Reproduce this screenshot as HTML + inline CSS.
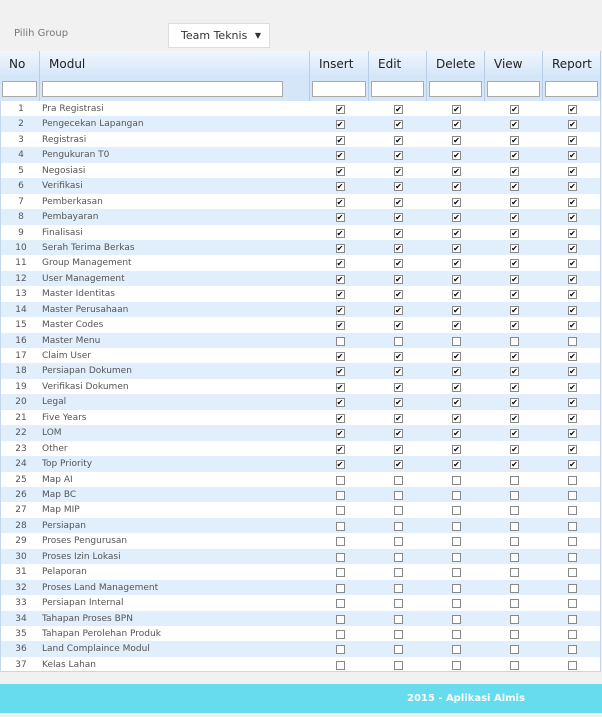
<!DOCTYPE html>
<html><head><meta charset="utf-8">
<style>
body{margin:0;width:602px;height:717px;background:#f1f1f1;font-family:"DejaVu Sans","Liberation Sans",sans-serif;position:relative;overflow:hidden}
.abs{position:absolute}
.lbl{left:14px;top:28px;font-size:10px;color:#777}
.sel{left:168px;top:23px;width:102px;height:25px;background:#fff;border:1px solid #ddd;box-sizing:border-box;font-size:11px;color:#333;line-height:23px;padding-left:12px}
.sel span{position:absolute;right:8px;font-size:8px}
.tbl{left:0;top:51px;width:601px;height:621px;background:#fff;border:1px solid #c5d7ea;box-sizing:border-box}
.hdr{top:51px;height:27px;background:linear-gradient(#f0f6fd,#d3e5f9);border-right:1px solid #b7cde6;box-sizing:border-box;font-size:12px;color:#222;line-height:27px;padding-left:9px}
.flt{top:78px;height:23px;background:#d6e6f9;border-right:1px solid #b7cde6;box-sizing:border-box}
.flt i{position:absolute;left:2px;right:2px;top:3px;height:16px;background:#fff;border:1px solid #aaa;box-sizing:border-box}
.row{left:1px;width:599px;height:15.44px;font-size:9px;color:#555;line-height:17px}
.cb{position:absolute;top:4px;width:7px;height:7px;border:1px solid #888;background:#fff;font-size:8px;line-height:7px;text-align:center;color:#000}
.foot{left:0;top:684px;width:602px;height:29px;background:#66dcee;color:#fff;font-size:10px;font-weight:bold;line-height:29px}
</style></head><body>
<div class="abs lbl">Pilih Group</div>
<div class="abs sel">Team Teknis<span>▼</span></div>
<div class="abs tbl"></div>
<div id="heads"></div>
<div id="rows"></div>
<div class="abs foot"><span style="position:absolute;left:407px">2015 - Aplikasi Almis</span></div>
<script>
const cols=[["No",0,40],["Modul",40,310],["Insert",310,369],["Edit",369,427],["Delete",427,485],["View",485,543],["Report",543,601]];
const modules=["Pra Registrasi","Pengecekan Lapangan","Registrasi","Pengukuran T0","Negosiasi","Verifikasi","Pemberkasan","Pembayaran","Finalisasi","Serah Terima Berkas","Group Management","User Management","Master Identitas","Master Perusahaan","Master Codes","Master Menu","Claim User","Persiapan Dokumen","Verifikasi Dokumen","Legal","Five Years","LOM","Other","Top Priority","Map AI","Map BC","Map MIP","Persiapan","Proses Pengurusan","Proses Izin Lokasi","Pelaporan","Proses Land Management","Persiapan Internal","Tahapan Proses BPN","Tahapan Perolehan Produk","Land Complaince Modul","Kelas Lahan"];
const checked=[1,1,1,1,1,1,1,1,1,1,1,1,1,1,1,0,1,1,1,1,1,1,1,1,0,0,0,0,0,0,0,0,0,0,0,0,0];
const H=document.getElementById('heads');
cols.forEach(c=>{
 const h=document.createElement('div');h.className='abs hdr';h.style.left=c[1]+'px';h.style.width=(c[2]-c[1])+'px';h.textContent=c[0];
 
 
 H.appendChild(h);
 const f=document.createElement('div');f.className='abs flt';f.style.left=c[1]+'px';f.style.width=(c[2]-c[1])+'px';
 
 
 const inp=document.createElement('i');
 
 
 if(c[0]==='Modul'){inp.style.right='26px';}
 f.appendChild(inp);H.appendChild(f);
});
const R=document.getElementById('rows');
modules.forEach((m,i)=>{
 const r=document.createElement('div');r.className='abs row';r.style.top=(101+i*15.44)+'px';
 if(i%2)r.style.background='#e1eefc';
 
 
 r.innerHTML='<span style="position:absolute;left:0;width:40px;text-align:center">'+(i+1)+'</span><span style="position:absolute;left:41px">'+m+'</span>';
 for(let k=2;k<7;k++){
  const cb=document.createElement('span');cb.className='cb';
  cb.style.left=((cols[k][1]+cols[k][2])/2-5)+'px';
  if(checked[i])cb.textContent='✔';
  
  
  r.appendChild(cb);
 }
 R.appendChild(r);
});
</script>
</body></html>
